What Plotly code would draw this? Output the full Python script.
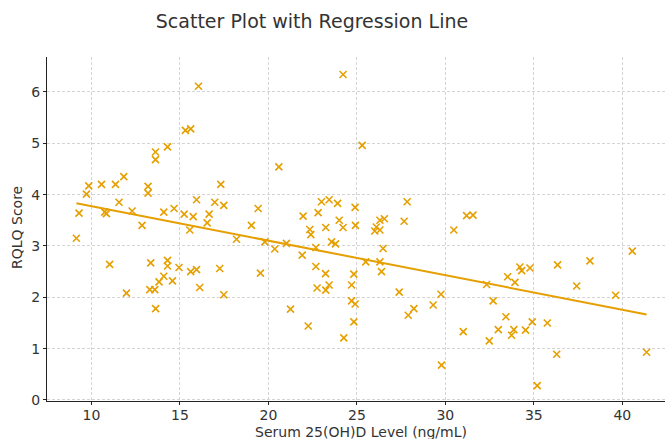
import numpy as np
import plotly.graph_objects as go

serum_25ohd = [
    9.30, 9.72, 9.85, 10.57, 10.75, 10.85, 11.36, 11.83, 11.56, 12.30,
    12.86, 13.20, 13.20, 13.62, 13.62, 14.30, 15.31, 15.61, 16.05, 14.09,
    14.67, 15.24, 15.75, 15.94, 16.65, 16.54, 16.97, 17.31, 17.48, 15.56,
    19.04, 19.42,
    9.15, 18.20, 11.03, 11.98, 13.35, 13.30, 13.58, 13.63, 13.82, 14.09,
    14.30, 14.30, 14.58, 14.95, 15.61, 15.94, 16.12, 17.25, 17.48, 19.55,
    24.22, 25.30, 20.59, 23.00, 23.43, 23.91, 24.90, 27.84, 21.96, 22.81,
    24.00, 22.34, 22.40, 23.24, 24.22, 24.92, 26.10, 26.01, 26.30, 26.30,
    26.55, 27.67, 30.48, 31.20, 31.56,
    19.80, 20.36, 21.02, 21.91, 22.68, 23.57, 23.79, 26.48, 25.50, 26.30,
    26.39, 22.68, 23.23, 24.83, 22.75, 23.24, 23.43, 24.70, 24.70, 24.90,
    24.83, 21.25, 22.25, 24.26, 27.39, 27.90, 28.22, 29.31, 29.75, 29.78,
    31.01,
    32.33, 32.70, 32.48, 32.99, 33.42, 33.52, 33.93, 33.74, 33.87, 34.21,
    34.31, 34.78, 34.53, 34.91, 35.76, 35.19, 36.34, 36.29, 37.42, 38.17,
    39.62, 40.56, 41.37,
]

rqlq_score = [
    3.64, 4.01, 4.17, 4.20, 3.66, 3.63, 4.20, 4.35, 3.85, 3.68,
    3.40, 4.16, 4.03, 4.83, 4.68, 4.93, 5.25, 5.28, 6.11, 3.66,
    3.73, 3.62, 3.57, 3.90, 3.62, 3.45, 3.85, 4.20, 3.79, 3.31,
    3.40, 3.73,
    3.15, 3.13, 2.64, 2.08, 2.67, 2.15, 2.15, 1.78, 2.30, 2.41,
    2.72, 2.61, 2.32, 2.58, 2.50, 2.54, 2.19, 2.56, 2.05, 2.47,
    6.34, 4.96, 4.54, 3.86, 3.90, 3.83, 3.75, 3.86, 3.58, 3.65,
    3.50, 3.32, 3.22, 3.36, 3.36, 3.40, 3.37, 3.29, 3.31, 3.50,
    3.53, 3.48, 3.31, 3.59, 3.60,
    3.08, 2.94, 3.05, 2.82, 2.97, 3.08, 3.04, 2.95, 2.69, 2.69,
    2.50, 2.60, 2.46, 2.45, 2.18, 2.14, 2.24, 2.24, 1.93, 1.87,
    1.52, 1.77, 1.44, 1.21, 2.10, 1.65, 1.78, 1.85, 2.06, 0.68,
    1.33,
    2.25, 1.93, 1.15, 1.37, 1.62, 2.40, 2.29, 1.26, 1.37, 2.59,
    2.52, 2.57, 1.36, 1.52, 1.50, 0.28, 2.63, 0.89, 2.22, 2.71,
    2.04, 2.90, 0.93,
]

x_ticks = [10, 15, 20, 25, 30, 35, 40]
y_ticks = [0, 1, 2, 3, 4, 5, 6]

COLOR = "#E69F00"
TEXT = "#333333"
FONT = "DejaVu Sans"

W, H = 665, 439
ML, MR, MT, MB = 47, 0, 57, 38

x = np.array(serum_25ohd)
y = np.array(rqlq_score)
slope, intercept = np.polyfit(x, y, 1)
line_x = np.array([x.min(), x.max()])
line_y = slope * line_x + intercept

fig = go.Figure()
fig.add_trace(go.Scatter(
    x=serum_25ohd, y=rqlq_score, mode="markers",
    marker=dict(symbol="x-thin-open", size=7, color=COLOR,
                line=dict(color=COLOR, width=1.6)),
    showlegend=False, hoverinfo="skip",
))
fig.add_trace(go.Scatter(
    x=line_x, y=line_y, mode="lines",
    line=dict(color=COLOR, width=2),
    showlegend=False, hoverinfo="skip",
))

axis_common = dict(
    showline=True, linecolor="#222222", linewidth=1,
    ticks="outside", ticklen=3, tickwidth=1, tickcolor="#222222",
    showgrid=True, gridcolor="#d4d4d4", gridwidth=0.8, griddash="3px,2px",
    zeroline=False, tickfont=dict(family=FONT, size=14, color=TEXT),
    mirror=False, automargin=False,
)

fig.update_layout(
    width=W, height=H,
    margin=dict(l=ML, r=MR, t=MT, b=MB),
    paper_bgcolor="white", plot_bgcolor="white",
    font=dict(family=FONT, color=TEXT),
    title=dict(text="Scatter Plot with Regression Line",
               font=dict(family=FONT, size=19, color=TEXT),
               x=312 / W, xref="container", xanchor="center",
               y=1 - 21 / H, yref="container", yanchor="middle"),
    xaxis=dict(range=[7.49, 42.41], tickvals=x_ticks, ticklabelstandoff=-2,
               **axis_common),
    yaxis=dict(range=[-0.02, 6.68], tickvals=y_ticks, **axis_common),
)

plot_h = H - MT - MB
plot_w = W - ML - MR
fig.add_annotation(
    text="Serum 25(OH)D Level (ng/mL)", xref="paper", yref="paper",
    x=(361 - ML) / plot_w, y=-(431.5 - (H - MB)) / plot_h,
    xanchor="center", yanchor="middle", showarrow=False,
    font=dict(family=FONT, size=14, color=TEXT),
)
fig.add_annotation(
    text="RQLQ Score", xref="paper", yref="paper",
    x=-(ML - 17) / plot_w, y=(H - MB - 228) / plot_h,
    xanchor="center", yanchor="middle", showarrow=False, textangle=-90,
    font=dict(family=FONT, size=14, color=TEXT),
)

fig.write_html("out.html",
               config={"displayModeBar": False},
               post_script="document.body.style.margin='0px';document.body.style.padding='0px';")
